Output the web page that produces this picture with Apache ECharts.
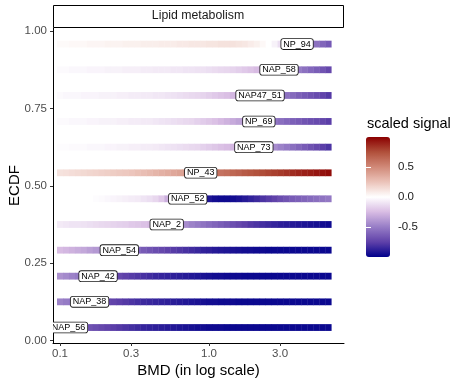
<!DOCTYPE html>
<html>
<head>
<meta charset="utf-8">
<script src="https://cdn.jsdelivr.net/npm/echarts@6/dist/echarts.min.js"></script>
<style>
html,body{margin:0;padding:0;background:#fff;}
#chart{width:453px;height:381px;}
</style>
</head>
<body>
<div id="chart"></div>
<script>
// ---- data ----
const rowNames = ['NAP_56','NAP_38','NAP_42','NAP_54','NAP_2','NAP_52','NP_43','NAP_73','NP_69','NAP47_51','NAP_58','NP_94'];
const rowEcdf = [0.042,0.125,0.208,0.292,0.375,0.458,0.542,0.625,0.708,0.792,0.875,0.958];
const labelBmd = [0.114,0.158,0.18,0.25,0.52,0.72,0.88,2.0,2.16,2.2,2.95,3.9];
// tile centres, log10(BMD)
const bmdLogGrid = [-1.00,-0.96,-0.92,-0.88,-0.84,-0.80,-0.76,-0.72,-0.68,-0.64,-0.60,-0.56,-0.52,-0.48,-0.44,-0.40,-0.36,-0.32,-0.28,-0.24,-0.20,-0.16,-0.12,-0.08,-0.04,0.00,0.04,0.08,0.12,0.16,0.20,0.24,0.28,0.32,0.36,0.40,0.44,0.48,0.52,0.56,0.60,0.64,0.68,0.72,0.76,0.80];
const xTickBmd = [0.1,0.3,1,3];
const yTicks = [0,0.25,0.5,0.75,1];
const legendTicks = [-0.5,0,0.5];

const sig_NAP_56 = [-0.58,-0.60,-0.62,-0.64,-0.66,-0.68, -0.70,-0.72,-0.74,-0.76,-0.78, -0.80,-0.82,-0.84,-0.86,-0.87, -0.88,-0.89,-0.90,-0.91,-0.92, -0.93,-0.94,-0.95,-0.95,-0.96, -0.96,-0.96,-0.97,-0.97,-0.97, -0.97,-0.97,-0.97,-0.97,-0.97, -0.97,-0.97,-0.97,-0.97,-0.97, -0.97,-0.97,-0.97,-0.97,-0.97];
const sig_NAP_38 = [-0.48,-0.51,-0.54,-0.57,-0.60,-0.63, -0.66,-0.69,-0.72,-0.74,-0.76, -0.78,-0.80,-0.82,-0.84,-0.85, -0.86,-0.87,-0.88,-0.89,-0.90, -0.91,-0.92,-0.93,-0.94,-0.95, -0.95,-0.96,-0.96,-0.96,-0.97, -0.97,-0.97,-0.97,-0.97,-0.97, -0.97,-0.97,-0.97,-0.97,-0.97, -0.97,-0.97,-0.97,-0.97,-0.97];
const sig_NAP_42 = [-0.42,-0.45,-0.48,-0.51,-0.54,-0.57, -0.60,-0.63,-0.66,-0.69,-0.72, -0.75,-0.77,-0.79,-0.81,-0.83, -0.85,-0.86,-0.87,-0.88,-0.89, -0.90,-0.91,-0.92,-0.93,-0.94, -0.95,-0.95,-0.96,-0.96,-0.96, -0.97,-0.97,-0.97,-0.97,-0.97, -0.97,-0.97,-0.97,-0.97,-0.97, -0.97,-0.97,-0.97,-0.97,-0.97];
const sig_NAP_54 = [-0.25,-0.27,-0.29,-0.31,-0.33,-0.36, -0.39,-0.42,-0.45,-0.48,-0.52, -0.55,-0.58,-0.61,-0.64,-0.67, -0.70,-0.72,-0.75,-0.77,-0.79, -0.81,-0.83,-0.85,-0.87,-0.88, -0.90,-0.91,-0.92,-0.93,-0.94, -0.95,-0.95,-0.96,-0.96,-0.97, -0.97,-0.97,-0.97,-0.97,-0.97, -0.97,-0.97,-0.97,-0.97,-0.97];
const sig_NAP_2 = [-0.08,-0.09,-0.10,-0.10,-0.11,-0.12, -0.13,-0.14,-0.15,-0.16,-0.17, -0.18,-0.20,-0.21,-0.23,-0.25, -0.27,-0.30,-0.33,-0.36,-0.40, -0.44,-0.48,-0.51,-0.54,-0.57, -0.60,-0.63,-0.66,-0.69,-0.72, -0.75,-0.78,-0.80,-0.82,-0.84, -0.86,-0.88,-0.89,-0.90,-0.91, -0.92,-0.93,-0.94,-0.95,-0.96];
const sig_NAP_52 = [0,0,0,0,0,0, -0.01,-0.02,-0.03,-0.04,-0.05, -0.06,-0.07,-0.08,-0.10,-0.12, -0.15,-0.20,-0.30,-0.45,-0.60, -0.72,-0.80,-0.85,-0.88,-0.92, -0.95,-0.96,-0.96,-0.95,-0.93, -0.90,-0.87,-0.84,-0.80,-0.77, -0.74,-0.70,-0.67,-0.64,-0.62, -0.60,-0.58,-0.56,-0.54,-0.52];
const sig_NP_43 = [0.12,0.13,0.14,0.15,0.16,0.17, 0.18,0.19,0.20,0.21,0.22, 0.23,0.24,0.26,0.27,0.29, 0.31,0.33,0.35,0.37,0.39, 0.42,0.45,0.48,0.51,0.54, 0.57,0.60,0.62,0.65,0.67, 0.70,0.72,0.74,0.76,0.78, 0.80,0.82,0.84,0.86,0.88, 0.90,0.91,0.93,0.94,0.96];
const sig_NAP_73 = [-0.01,-0.01,-0.02,-0.02,-0.02,-0.03, -0.03,-0.03,-0.04,-0.04,-0.05, -0.05,-0.06,-0.06,-0.07,-0.07, -0.08,-0.09,-0.10,-0.11,-0.12, -0.13,-0.14,-0.15,-0.17,-0.19, -0.21,-0.23,-0.25,-0.27,-0.29, -0.31,-0.33,-0.35,-0.38,-0.41, -0.44,-0.48,-0.52,-0.56,-0.60, -0.64,-0.68,-0.72,-0.76,-0.80];
const sig_NP_69 = [-0.02,-0.02,-0.03,-0.03,-0.03,-0.04, -0.04,-0.05,-0.05,-0.05,-0.06, -0.06,-0.07,-0.07,-0.08,-0.08, -0.09,-0.10,-0.11,-0.12,-0.13, -0.14,-0.15,-0.17,-0.19,-0.21, -0.23,-0.26,-0.29,-0.32,-0.35, -0.38,-0.41,-0.44,-0.47,-0.50, -0.53,-0.56,-0.59,-0.62,-0.64, -0.67,-0.69,-0.71,-0.73,-0.76];
const sig_NAP47_51 = [-0.02,-0.03,-0.03,-0.03,-0.04,-0.04, -0.04,-0.05,-0.05,-0.05,-0.06, -0.06,-0.07,-0.07,-0.08,-0.08, -0.09,-0.09,-0.10,-0.11,-0.12, -0.13,-0.14,-0.15,-0.16,-0.18, -0.20,-0.22,-0.24,-0.27,-0.30, -0.33,-0.36,-0.39,-0.42,-0.45, -0.48,-0.52,-0.55,-0.58,-0.62, -0.65,-0.68,-0.71,-0.74,-0.78];
const sig_NAP_58 = [-0.02,-0.02,-0.03,-0.03,-0.03,-0.04, -0.04,-0.04,-0.05,-0.05,-0.05, -0.06,-0.06,-0.06,-0.07,-0.07, -0.08,-0.08,-0.08,-0.09,-0.09, -0.10,-0.10,-0.11,-0.11,-0.12, -0.13,-0.14,-0.15,-0.16,-0.18, -0.20,-0.22,-0.25,-0.28,-0.31, -0.35,-0.39,-0.43,-0.47,-0.51, -0.55,-0.59,-0.63,-0.67,-0.72];
const sig_NP_94 = [0.02,0.02,0.03,0.03,0.03,0.04, 0.04,0.04,0.05,0.05,0.05, 0.06,0.06,0.06,0.07,0.07, 0.07,0.08,0.08,0.08,0.09, 0.09,0.10,0.10,0.10,0.11, 0.11,0.12,0.12,0.12,0.11, 0.10,0.08,0.06,0.03,0.00, -0.05,-0.12,-0.20,-0.30,-0.38, -0.45,-0.50,-0.55,-0.60,-0.65];

const rowSignals = [sig_NAP_56,sig_NAP_38,sig_NAP_42,sig_NAP_54,sig_NAP_2,sig_NAP_52,sig_NP_43,sig_NAP_73,sig_NP_69,sig_NAP47_51,sig_NAP_58,sig_NP_94];

// ---- build ----
const tileData = [];
rowSignals.forEach((arr, r) => {
  arr.forEach((v, i) => {
    if (bmdLogGrid[i] !== undefined) tileData.push([bmdLogGrid[i], rowEcdf[r], v]);
  });
});
const labelData = labelBmd.map((b, r) => [Math.log10(b), rowEcdf[r]]);
const xTickLog = xTickBmd.map(v => Math.log10(v));

const FONT = 'Liberation Sans, Arial, Helvetica, sans-serif';
const halfStep = 0.02;
const tileH = 0.022;

const chart = echarts.init(document.getElementById('chart'), null, {renderer: 'canvas'});
chart.setOption({
  backgroundColor: '#ffffff',
  animation: false,
  textStyle: {fontFamily: FONT},
  grid: [
    {left: 53, right: 109, top: 28, bottom: 38, containLabel: false, outerBoundsMode: 'none'},
    {left: 366, top: 137, width: 24, height: 120, containLabel: false, outerBoundsMode: 'none'}
  ],
  xAxis: [
    {
      type: 'value', min: -1.047, max: 0.906, gridIndex: 0,
      axisLine: {show: true, onZero: false, lineStyle: {color: '#000', width: 1}},
      axisTick: {show: true, customValues: xTickLog, length: 3, lineStyle: {color: '#333'}},
      axisLabel: {customValues: xTickLog, margin: 5, fontSize: 11.5, color: '#4D4D4D', fontFamily: FONT,
        formatter: v => Math.pow(10, v).toFixed(1)},
      splitLine: {show: false},
      name: 'BMD (in log scale)', nameLocation: 'middle', nameGap: 20, nameMoveOverlap: false,
      nameTextStyle: {fontSize: 15, color: '#000', fontFamily: FONT}
    },
    {type: 'value', gridIndex: 1, min: 0, max: 1, show: false}
  ],
  yAxis: [
    {
      type: 'value', min: -0.008, max: 1.01, gridIndex: 0,
      axisLine: {show: true, onZero: false, lineStyle: {color: '#000', width: 1}},
      axisTick: {show: true, customValues: yTicks, length: 3, lineStyle: {color: '#333'}},
      axisLabel: {customValues: yTicks, margin: 6, fontSize: 11.5, color: '#4D4D4D', fontFamily: FONT,
        formatter: v => v.toFixed(2)},
      splitLine: {show: false},
      name: 'ECDF', nameLocation: 'middle', nameGap: 31, nameMoveOverlap: false,
      nameTextStyle: {fontSize: 15, color: '#000', fontFamily: FONT}
    },
    {
      type: 'value', gridIndex: 1, min: -1, max: 1, position: 'right', z: 10,
      axisLine: {show: false},
      axisTick: {show: true, inside: true, length: 5, customValues: legendTicks, lineStyle: {color: '#ffffff', width: 1}},
      axisLabel: {customValues: legendTicks, margin: 8, fontSize: 11.5, color: '#1A1A1A', fontFamily: FONT,
        formatter: v => v.toFixed(1)},
      splitLine: {show: false}
    },
    {
      type: 'value', gridIndex: 1, min: -1, max: 1, position: 'left', z: 10,
      axisLine: {show: false},
      axisTick: {show: true, inside: true, length: 5, customValues: legendTicks, lineStyle: {color: '#ffffff', width: 1}},
      axisLabel: {show: false},
      splitLine: {show: false}
    }
  ],
  visualMap: {
    type: 'continuous', min: -1, max: 1, dimension: 2, seriesIndex: 0,
    calculable: false, orient: 'vertical', left: 366, top: 137,
    itemWidth: 24, itemHeight: 120, padding: 0, text: null, hoverLink: false,
    inRange: {color: ['#00008B','#5F41A9','#977DC6','#D8BCE3','#FFFFFF','#EBC3B9','#D18978','#B1503B','#8B0000']}
  },
  graphic: [
    {type: 'rect', left: 53, top: 5, shape: {width: 290, height: 22}, style: {fill: '#fff', stroke: '#000', lineWidth: 1}, z: 5},
    {type: 'text', x: 198, y: 16, style: {text: 'Lipid metabolism', fontSize: 12.3, fontFamily: FONT, fill: '#1A1A1A', align: 'center', verticalAlign: 'middle'}, z: 6},
    {type: 'text', x: 367, y: 124, style: {text: 'scaled signal', fontSize: 14.5, fontFamily: FONT, fill: '#000', align: 'left', verticalAlign: 'middle'}, z: 6}
  ],
  series: [
    {
      type: 'custom', xAxisIndex: 0, yAxisIndex: 0, clip: true,
      data: tileData, encode: {x: 0, y: 1},
      renderItem: function (params, api) {
        const x = api.value(0), y = api.value(1);
        const p0 = api.coord([x - halfStep, y]);
        const p1 = api.coord([x + halfStep, y]);
        const h = api.size([0, tileH])[1];
        return {type: 'rect', shape: {x: p0[0], y: p0[1] - h / 2, width: p1[0] - p0[0] + 0.4, height: h},
          style: {fill: api.visual('color')}};
      }
    },
    {
      type: 'custom', xAxisIndex: 0, yAxisIndex: 0, clip: true, z: 5,
      data: labelData, encode: {x: 0, y: 1},
      renderItem: function (params, api) {
        const p = api.coord([api.value(0), api.value(1)]);
        return {type: 'text', x: p[0], y: p[1],
          style: {text: rowNames[params.dataIndex], fontSize: 9, fontFamily: FONT, fill: '#000',
            align: 'center', verticalAlign: 'middle', backgroundColor: '#fff',
            borderColor: '#1A1A1A', borderWidth: 0.8, borderRadius: 2, padding: [1, 2, 0, 2]}};
      }
    }
  ]
});
</script>
</body>
</html>
